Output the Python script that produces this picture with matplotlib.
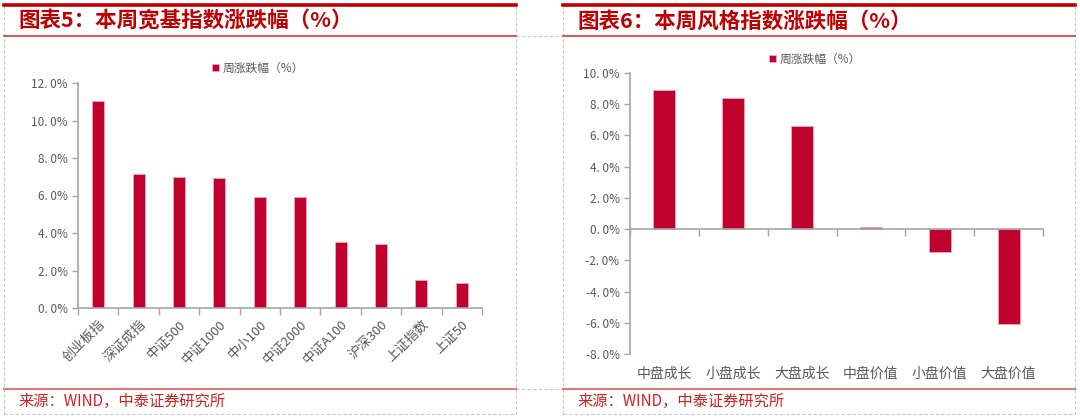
import matplotlib.pyplot as plt
from matplotlib.lines import Line2D
from matplotlib.patches import Rectangle
from matplotlib.ticker import FuncFormatter, FixedLocator
import matplotlib.transforms as mtransforms

plt.rcParams['font.family'] = ['Noto Sans CJK SC', 'DejaVu Sans']

broad_names = ["创业板指", "深证成指", "中证500", "中证1000", "中小100",
               "中证2000", "中证A100", "沪深300", "上证指数", "上证50"]
broad_chg = [11.03, 7.14, 7.0, 6.93, 5.94, 5.9, 3.53, 3.44, 1.47, 1.31]

style_names = ["中盘成长", "小盘成长", "大盘成长", "中盘价值", "小盘价值", "大盘价值"]
style_chg = [8.88, 8.4, 6.6, 0.12, -1.45, -6.05]

BAR = "#C0002D"
GRAY = "#595959"
AXIS = "#A6A6A6"
RED = "#C00000"

W, H = 1080, 418


def fx(px):
    return px / W


def fy(py):
    return 1 - py / H


def pct(v, _):
    return f"{v:.1f}%".replace(".", ". ")


def panel(fig, x0, x1, title):
    # dashed gray frame
    fig.add_artist(Rectangle((fx(x0), fy(414)), fx(x1 - x0), (414 - 5) / H,
                             fill=False, ec="#C8C8C8", lw=0.8, ls=(0, (3, 2)),
                             transform=fig.transFigure))
    fig.add_artist(Line2D([fx(x0), fx(x1)], [fy(5), fy(5)], color=RED, lw=2.6,
                          transform=fig.transFigure))
    fig.add_artist(Line2D([fx(x0), fx(x1)], [fy(36), fy(36)], color="#D83A3A",
                          lw=1.2, transform=fig.transFigure))
    fig.add_artist(Line2D([fx(x0), fx(x1)], [fy(389), fy(389)], color="#E07878",
                          lw=1.5, transform=fig.transFigure))
    fig.text(fx(x0 + 14), fy(21), title, color=RED, fontsize=15.5,
             fontweight="bold", style="italic", va="center", ha="left")
    fig.text(fx(x0 + 14), fy(401), "来源：WIND，中泰证券研究所", color="#D02020",
             fontsize=11, va="center", ha="left")


def style_axes(ax):
    for s in ["top", "right"]:
        ax.spines[s].set_visible(False)
    for s in ["left", "bottom"]:
        ax.spines[s].set_color(AXIS)
        ax.spines[s].set_linewidth(1.2)
    ax.tick_params(axis="y", colors=AXIS, labelcolor=GRAY, labelsize=8.5,
                   length=4, width=1.0)
    ax.yaxis.set_major_formatter(FuncFormatter(pct))


fig = plt.figure(figsize=(10.8, 4.18), dpi=100)

# dashed connectors between panels
for yy in (36, 389):
    fig.add_artist(Line2D([fx(516), fx(563)], [fy(yy), fy(yy)], color="#C8C8C8",
                          lw=0.8, ls=(0, (3, 2)), transform=fig.transFigure))

panel(fig, 4, 516, "图表5：本周宽基指数涨跌幅（%）")
panel(fig, 563, 1075, "图表6：本周风格指数涨跌幅（%）")

# left chart
ax1 = fig.add_axes([fx(78), fy(308), fx(482 - 78), (308 - 83) / H])
x1 = range(len(broad_names))
b1 = ax1.bar(x1, broad_chg, width=0.3, color=BAR, edgecolor="#F0B0C0", lw=0.5,
             label="周涨跌幅（%）")
ax1.set_xlim(-0.5, len(broad_names) - 0.5)
ax1.set_ylim(0, 12)
ax1.set_yticks([0, 2, 4, 6, 8, 10, 12])
style_axes(ax1)
ax1.xaxis.set_major_locator(FixedLocator([i - 0.5 for i in range(len(broad_names) + 1)]))
ax1.xaxis.set_minor_locator(FixedLocator(list(x1)))
ax1.set_xticklabels([])
ax1.set_xticklabels(broad_names, minor=True, rotation=45, ha="right",
                    rotation_mode="anchor")
ax1.tick_params(axis="x", which="major", colors=AXIS, length=5, width=1.0)
ax1.tick_params(axis="x", which="minor", length=0, labelcolor=GRAY,
                labelsize=9.5, pad=7)
fig.legend(handles=[b1], loc="center", bbox_to_anchor=(fx(258), fy(68)),
           frameon=False, fontsize=8.5, labelcolor=GRAY, handlelength=0.6,
           handleheight=0.6, handletextpad=0.3)

# right chart
ax2 = fig.add_axes([fx(630), fy(354), fx(1043 - 630), (354 - 73) / H])
x2 = range(len(style_names))
b2 = ax2.bar(x2, style_chg, width=0.32, color=BAR, edgecolor="#F0B0C0", lw=0.5,
             label="周涨跌幅（%）")
ax2.set_xlim(-0.5, len(style_names) - 0.5)
ax2.set_ylim(-8, 10)
ax2.set_yticks(range(-8, 11, 2))
style_axes(ax2)
ax2.spines["bottom"].set_position(("data", 0))
ax2.xaxis.set_major_locator(FixedLocator([i - 0.5 for i in range(len(style_names) + 1)]))
ax2.set_xticklabels([])
ax2.tick_params(axis="x", which="major", colors=AXIS, length=5, width=1.0)
trans = mtransforms.blended_transform_factory(ax2.transData, ax2.transAxes)
for i, name in zip(x2, style_names):
    ax2.text(i, -0.07, name, transform=trans, ha="center", va="center",
             color=GRAY, fontsize=10)
fig.legend(handles=[b2], loc="center", bbox_to_anchor=(fx(815), fy(59)),
           frameon=False, fontsize=8.5, labelcolor=GRAY, handlelength=0.6,
           handleheight=0.6, handletextpad=0.3)

fig.savefig("out.png", dpi=100)
